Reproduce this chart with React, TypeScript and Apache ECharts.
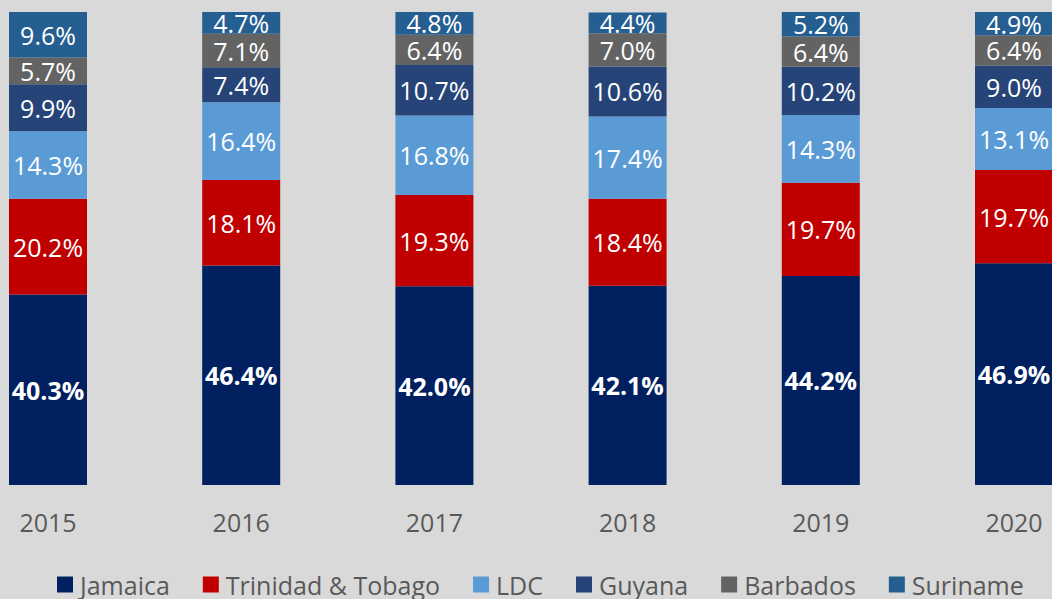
import React, { useEffect, useRef } from "react";
import * as echarts from "echarts";

const years = ["2015", "2016", "2017", "2018", "2019", "2020"];
const jamaica = [40.3, 46.4, 42.0, 42.1, 44.2, 46.9];
const trinidad = [20.2, 18.1, 19.3, 18.4, 19.7, 19.7];
const ldc = [14.3, 16.4, 16.8, 17.4, 14.3, 13.1];
const guyana = [9.9, 7.4, 10.7, 10.6, 10.2, 9.0];
const barbados = [5.7, 7.1, 6.4, 7.0, 6.4, 6.4];
const suriname = [9.6, 4.7, 4.8, 4.4, 5.2, 4.9];

const seriesDefs = [
  { name: "Jamaica", data: jamaica, color: "#002060", bold: true },
  { name: "Trinidad & Tobago", data: trinidad, color: "#C00000", bold: false },
  { name: "LDC", data: ldc, color: "#5B9BD5", bold: false },
  { name: "Guyana", data: guyana, color: "#264478", bold: false },
  { name: "Barbados", data: barbados, color: "#636363", bold: false },
  { name: "Suriname", data: suriname, color: "#255E91", bold: false },
];

const FONT = "'Open Sans', sans-serif";
const BAND = 193.2;
const OFFSET = 49; // chart canvas starts this many px left of the window

export default function App() {
  const ref = useRef<HTMLDivElement>(null);
  useEffect(() => {
    if (!ref.current) return;
    const chart = echarts.init(ref.current, undefined, { renderer: "svg" });
    chart.setOption({
      animation: false,
      backgroundColor: "#D9D9D9",
      grid: { left: OFFSET + 48 - BAND / 2, width: BAND * 6, top: 12, height: 473, containLabel: false },
      xAxis: {
        type: "category",
        data: years,
        axisLine: { show: false },
        axisTick: { show: false },
        axisLabel: { interval: 0, color: "#595959", fontSize: 25, fontFamily: FONT, margin: 24 },
      },
      yAxis: {
        type: "value",
        min: 0,
        max: 100,
        show: false,
        splitLine: { show: false },
      },
      legend: {
        left: OFFSET + 52,
        top: 567,
        itemWidth: 16,
        itemHeight: 16,
        itemGap: 33,
        icon: "rect",
        textStyle: { color: "#595959", fontSize: 25, fontFamily: FONT, padding: [0, 0, 0, 2] },
        data: seriesDefs.map((s) => s.name),
      },
      series: seriesDefs.map((s) => ({
        name: s.name,
        type: "bar",
        stack: "total",
        barWidth: 78,
        data: s.data,
        itemStyle: { color: s.color },
        label: {
          show: true,
          position: "inside",
          color: "#FFFFFF",
          fontSize: 25,
          fontFamily: FONT,
          fontWeight: s.bold ? "bold" : "normal",
          formatter: (p: any) => Number(p.value).toFixed(1) + "%",
        },
      })),
    });
    return () => chart.dispose();
  }, []);
  return (
    <div
      style={{
        position: "absolute",
        left: 0,
        top: 0,
        width: 1052,
        height: 599,
        overflow: "hidden",
        background: "#D9D9D9",
      }}
    >
      <div
        ref={ref}
        style={{ position: "absolute", left: -OFFSET, top: 0, width: 1052 + OFFSET + 70, height: 599 }}
      />
    </div>
  );
}
